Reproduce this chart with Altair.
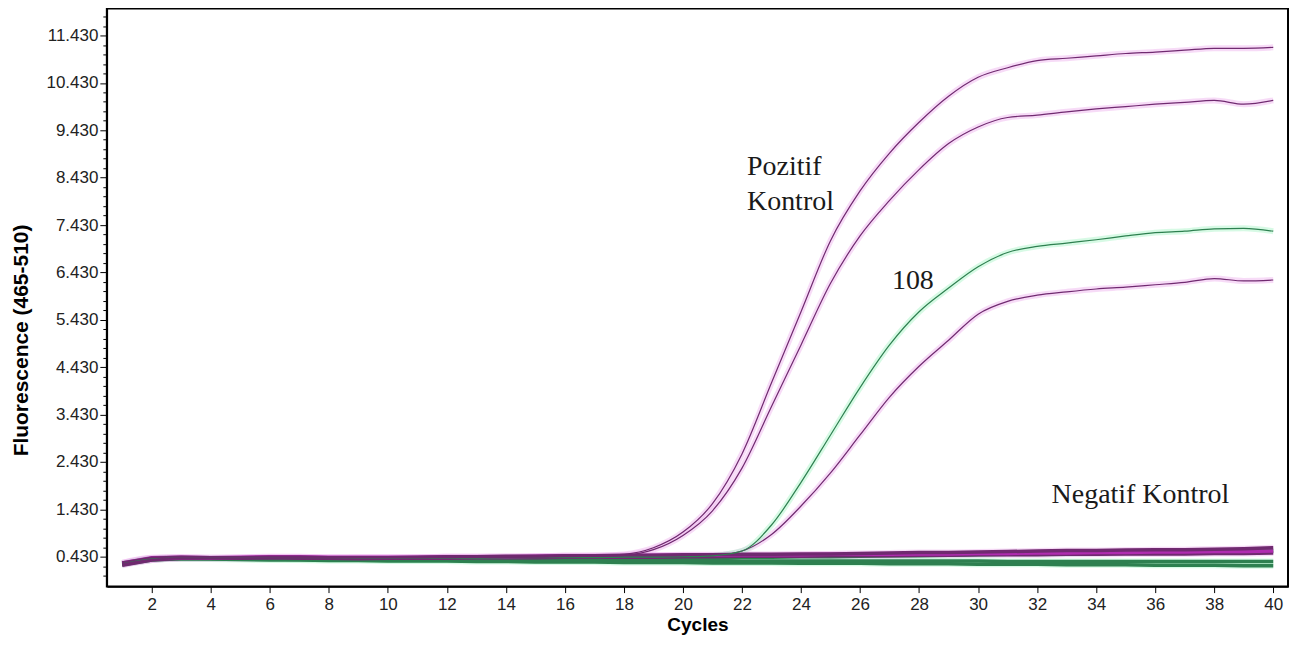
import altair as alt
import pandas as pd

CYCLES = list(range(1, 41))

POS1 = [0.28, 0.37, 0.40, 0.40, 0.40, 0.40, 0.41, 0.41, 0.41, 0.41,
        0.41, 0.42, 0.42, 0.42, 0.43, 0.44, 0.45, 0.48, 0.62, 0.95,
        1.55, 2.60, 4.10, 5.60, 7.10, 8.15, 8.95, 9.60, 10.15, 10.55,
        10.75, 10.90, 10.95, 11.00, 11.05, 11.08, 11.12, 11.16, 11.16, 11.18]
POS2 = [0.27, 0.36, 0.40, 0.40, 0.40, 0.40, 0.40, 0.40, 0.41, 0.41,
        0.41, 0.41, 0.42, 0.42, 0.42, 0.43, 0.44, 0.46, 0.58, 0.88,
        1.40, 2.30, 3.60, 4.90, 6.20, 7.20, 7.95, 8.60, 9.15, 9.50,
        9.70, 9.75, 9.82, 9.88, 9.93, 9.98, 10.02, 10.06, 9.98, 10.06]
S108 = [0.28, 0.38, 0.40, 0.40, 0.40, 0.40, 0.40, 0.40, 0.40, 0.40,
        0.40, 0.40, 0.40, 0.41, 0.41, 0.41, 0.41, 0.42, 0.42, 0.43,
        0.45, 0.55, 1.10, 2.00, 3.00, 4.00, 4.90, 5.60, 6.10, 6.55,
        6.85, 6.98, 7.05, 7.12, 7.20, 7.27, 7.30, 7.35, 7.36, 7.30]
LOWP = [0.28, 0.37, 0.40, 0.40, 0.40, 0.40, 0.40, 0.40, 0.40, 0.40,
        0.40, 0.41, 0.41, 0.41, 0.41, 0.42, 0.42, 0.42, 0.43, 0.43,
        0.45, 0.55, 0.90, 1.50, 2.20, 3.00, 3.80, 4.45, 5.00, 5.55,
        5.82, 5.95, 6.02, 6.08, 6.12, 6.17, 6.22, 6.30, 6.25, 6.27]
NEG_P1 = [0.30, 0.40, 0.42, 0.41, 0.41, 0.42, 0.42, 0.41, 0.41, 0.41,
          0.42, 0.43, 0.43, 0.44, 0.44, 0.45, 0.45, 0.46, 0.46, 0.47,
          0.47, 0.48, 0.48, 0.49, 0.49, 0.50, 0.51, 0.52, 0.52, 0.53,
          0.54, 0.55, 0.56, 0.56, 0.57, 0.58, 0.58, 0.59, 0.60, 0.62]
NEG_P2 = [0.25, 0.36, 0.40, 0.40, 0.40, 0.41, 0.40, 0.40, 0.39, 0.40,
          0.40, 0.40, 0.41, 0.41, 0.41, 0.42, 0.42, 0.42, 0.42, 0.43,
          0.43, 0.44, 0.44, 0.44, 0.45, 0.45, 0.45, 0.46, 0.46, 0.47,
          0.47, 0.47, 0.48, 0.48, 0.49, 0.49, 0.49, 0.50, 0.50, 0.51]
NEG_M = [0.30, 0.41, 0.42, 0.41, 0.42, 0.43, 0.43, 0.42, 0.42, 0.42,
         0.42, 0.43, 0.43, 0.43, 0.44, 0.45, 0.45, 0.45, 0.46, 0.46,
         0.46, 0.47, 0.47, 0.47, 0.48, 0.48, 0.48, 0.49, 0.49, 0.50,
         0.50, 0.51, 0.51, 0.52, 0.52, 0.53, 0.53, 0.54, 0.54, 0.55]
NEG_G1 = [0.28, 0.38, 0.40, 0.40, 0.39, 0.39, 0.39, 0.38, 0.38, 0.38,
          0.38, 0.38, 0.38, 0.38, 0.39, 0.39, 0.39, 0.40, 0.40, 0.41,
          0.41, 0.42, 0.42, 0.43, 0.43, 0.44, 0.45, 0.45, 0.46, 0.47,
          0.48, 0.48, 0.49, 0.50, 0.51, 0.52, 0.53, 0.54, 0.55, 0.55]
NEG_G2 = [0.26, 0.36, 0.39, 0.38, 0.37, 0.36, 0.36, 0.35, 0.35, 0.34,
          0.34, 0.34, 0.33, 0.33, 0.32, 0.32, 0.32, 0.31, 0.31, 0.31,
          0.30, 0.30, 0.30, 0.29, 0.29, 0.29, 0.28, 0.28, 0.28, 0.27,
          0.27, 0.27, 0.26, 0.26, 0.26, 0.25, 0.25, 0.25, 0.24, 0.24]
NEG_G3 = [0.27, 0.37, 0.40, 0.39, 0.38, 0.38, 0.37, 0.37, 0.37, 0.36,
          0.36, 0.36, 0.36, 0.36, 0.35, 0.35, 0.35, 0.35, 0.35, 0.35,
          0.35, 0.34, 0.34, 0.34, 0.34, 0.34, 0.34, 0.34, 0.34, 0.34,
          0.33, 0.33, 0.33, 0.33, 0.33, 0.33, 0.33, 0.33, 0.33, 0.33]

SERIES = {
    "negG2": NEG_G2, "negG3": NEG_G3, "negG1": NEG_G1,
    "negP2": NEG_P2, "negM": NEG_M, "negP1": NEG_P1,
    "lowP": LOWP, "s108": S108, "pos2": POS2, "pos1": POS1,
}
KIND = {
    "negG2": "green", "negG3": "green", "negG1": "green",
    "negP2": "purple", "negM": "magenta", "negP1": "purple",
    "lowP": "purple", "s108": "green", "pos2": "purple", "pos1": "purple",
}
FLAT = {"negG2", "negG3", "negG1", "negP2", "negM", "negP1"}

X_TICKS = list(range(2, 41, 2))
Y_TICKS = [0.43 + k for k in range(12)]
Y_MINOR = [round(0.03 + 0.2 * i, 2) for i in range(60)]

ANN_TEXT = ["Pozitif", "Kontrol", "108", "Negatif Kontrol"]
ANN_X = [22.17, 22.17, 27.08, 32.49]
ANN_Y = [8.48, 7.74, 6.08, 1.57]

rows = []
for name, vals in SERIES.items():
    for c, v in zip(CYCLES, vals):
        rows.append({"cycle": c, "value": v, "series": name,
                     "kind": KIND[name], "flat": name in FLAT})
df = pd.DataFrame(rows)
ann = pd.DataFrame({"text": ANN_TEXT, "x": ANN_X, "y": ANN_Y})

xscale = alt.Scale(domain=[0.48, 40.5], nice=False, zero=False)
yscale = alt.Scale(domain=[-0.2, 12.0], nice=False, zero=False)

is_major = "abs((datum.value - 0.43) - round(datum.value - 0.43)) < 0.01"
TICK_FONT = "Liberation Sans"

x_axis = alt.Axis(values=X_TICKS, format="d", title="Cycles", grid=False, tickSize=6,
                  tickColor="#000", domainColor="#000", domainWidth=1.5,
                  labelFont=TICK_FONT, labelFontSize=17, labelColor="#222",
                  labelPadding=4, titleFont="Liberation Sans", titleFontSize=19,
                  titleFontWeight="bold", titleColor="#000", titlePadding=3)
y_axis = alt.Axis(values=Y_MINOR, tickCount=200, title="Fluorescence (465-510)", grid=False,
                  tickSize={"condition": {"test": is_major, "value": 7}, "value": 4},
                  tickColor="#000", domainColor="#000", domainWidth=1.5,
                  labelExpr=f"{is_major} ? format(datum.value, '.3f') : ''",
                  labelOverlap=False, labelFont=TICK_FONT, labelFontSize=17,
                  labelColor="#222", labelPadding=2, titleFont="Liberation Sans",
                  titleFontSize=21, titleFontWeight="bold", titleColor="#000",
                  titleX=-85, titleY=332, titleAngle=-90, titleAlign="center",
                  titleBaseline="middle")

base = alt.Chart(df)

halo_color = alt.Color("kind:N", scale=alt.Scale(domain=["purple", "magenta", "green"],
                       range=["#f0b8f0", "#f0a0f0", "#b0f5cc"]), legend=None)
main_color = alt.Color("kind:N", scale=alt.Scale(domain=["purple", "magenta", "green"],
                       range=["#702a70", "#b02cb0", "#2e8050"]), legend=None)

halo = base.mark_line(strokeWidth=6, opacity=0.5, clip=True, interpolate="monotone").encode(
    x=alt.X("cycle:Q", scale=xscale, axis=x_axis),
    y=alt.Y("value:Q", scale=yscale, axis=y_axis),
    color=halo_color, detail="series:N", order="cycle:Q",
)
flat = base.transform_filter("datum.flat").mark_line(strokeWidth=3.5, clip=True).encode(
    x="cycle:Q", y="value:Q", color=main_color, detail="series:N", order="cycle:Q",
)
curves = base.transform_filter("!datum.flat").mark_line(
    strokeWidth=1.2, clip=True, interpolate="monotone").encode(
    x="cycle:Q", y="value:Q", color=main_color, detail="series:N", order="cycle:Q",
)
labels = alt.Chart(ann).mark_text(align="left", baseline="alphabetic", font="Liberation Serif",
                                  fontSize=28, color="#1a1a1a").encode(
    x="x:Q", y="y:Q", text="text:N")

chart = alt.layer(halo, flat, curves, labels).resolve_scale(color="independent").properties(
    width=1183, height=579,
    padding={"left": 99, "top": 0, "right": 5, "bottom": 55},
    autosize=alt.AutoSizeParams(type="none"),
    background="white",
).configure_view(stroke="#000", strokeWidth=2)

chart.save("out.html", embed_options={"renderer": "svg", "actions": False})
